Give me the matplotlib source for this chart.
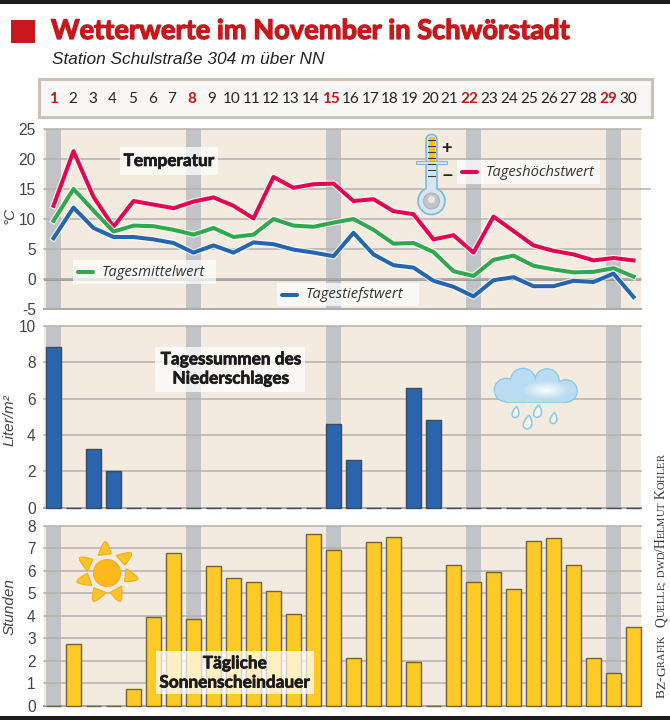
#!/usr/bin/python3
import numpy as np
import matplotlib
matplotlib.use("Agg")
import matplotlib.pyplot as plt
import matplotlib.patheffects as pe
from matplotlib.patches import Circle, Polygon, Rectangle, FancyBboxPatch, Ellipse

plt.rcParams["axes.unicode_minus"] = False
plt.rcParams["font.family"] = ["Liberation Sans", "DejaVu Sans"]

days = list(range(1, 31))
sundays = [1, 8, 15, 22, 29]

temp_high = [12.2, 21.3, 13.7, 8.7, 13.0, 12.4, 11.8, 12.9, 13.6, 12.2, 10.1, 17.0, 15.2, 15.8, 15.9,
             13.0, 13.3, 11.3, 10.8, 6.6, 7.3, 4.4, 10.4, 8.0, 5.6, 4.7, 4.1, 3.1, 3.5, 3.1]
temp_mean = [9.7, 15.0, 11.4, 7.9, 8.9, 8.8, 8.2, 7.4, 8.5, 7.0, 7.4, 10.0, 8.9, 8.7, 9.4,
             10.0, 8.2, 5.9, 6.0, 4.5, 1.3, 0.5, 3.2, 3.9, 2.2, 1.6, 1.1, 1.2, 1.8, 0.4]
temp_low = [6.8, 11.9, 8.5, 7.0, 7.0, 6.6, 6.0, 4.4, 5.6, 4.4, 6.1, 5.8, 4.9, 4.4, 3.8,
            7.7, 4.1, 2.3, 1.9, -0.3, -1.3, -2.9, -0.2, 0.3, -1.2, -1.2, -0.3, -0.5, 0.9, -3.0]
rain = [8.85, 0, 3.2, 2.0, 0, 0, 0, 0, 0, 0, 0, 0, 0, 0, 4.6,
        2.6, 0, 0, 6.6, 4.8, 0, 0, 0, 0, 0, 0, 0, 0, 0, 0]
sun_hours = [0, 2.75, 0, 0, 0.72, 3.93, 6.8, 3.85, 6.2, 5.7, 5.5, 5.1, 4.1, 7.63, 6.95,
             2.1, 7.27, 7.52, 1.93, 0, 6.26, 5.52, 5.93, 5.18, 7.34, 7.45, 6.26, 2.1, 1.44, 3.52]

W, H = 670, 720
RED = "#c8181c"
BEIGE = "#f3ebdf"
BAND = "#c1c3c6"
GRID = "#b4b1ab"
TEXT = "#444444"
HIGH_COLOR = "#e3054f"
MEAN_COLOR = "#2fa84f"
LOW_COLOR = "#2565b0"
DARK = "#1c1c1c"

fig = plt.figure(figsize=(W / 100, H / 100), dpi=100, facecolor="white")


def panel(top, bottom, ymin, ymax, ticks, ylabel, label_y):
    # axes placed by pixel rows of the reference
    ax = fig.add_axes([44 / W, 1 - bottom / H, (641 - 44) / W, (bottom - top) / H])
    ax.set_facecolor(BEIGE)
    ax.set_xlim(0.525, 30.375)
    ax.set_ylim(ymin, ymax)
    for d in sundays:
        ax.axvspan(d - 0.375, d + 0.375, color=BAND, lw=0, zorder=1)
    ax.set_yticks(ticks)
    ax.set_xticks([])
    ax.grid(axis="y", color=GRID, lw=1.1, zorder=2)
    for line in ax.get_ygridlines():
        line.set_clip_on(False)
    ax.set_axisbelow(False)
    ax.tick_params(axis="y", length=0, pad=6, labelsize=11.2, labelcolor=TEXT)
    for name in ["left", "right", "top"]:
        ax.spines[name].set_visible(False)
    ax.spines["bottom"].set_color("#9a9a9a")
    ax.spines["bottom"].set_linewidth(1.4)
    ax.text(-0.0585, (bottom - label_y) / (bottom - top), ylabel, transform=ax.transAxes, rotation=90,
            ha="center", va="center", fontsize=11, style="italic", color=TEXT)
    return ax


ax_temp = panel(129, 309, -5, 25, range(-5, 30, 5), "°C", 215)
ax_rain = panel(326, 507.5, 0, 10, range(0, 12, 2), "Liter/m²", 420)
ax_sun = panel(526, 705.5, 0, 8, range(0, 9), "Stunden", 607)

ax_temp.axhline(0, color="#8c8c8c", lw=1.8, zorder=2)
halo = [pe.Stroke(linewidth=4.6, foreground="white", alpha=0.7), pe.Normal()]
for values, color in [(temp_high, HIGH_COLOR), (temp_mean, MEAN_COLOR), (temp_low, LOW_COLOR)]:
    ax_temp.plot(days, values, color=color, lw=2.9, solid_joinstyle="round", zorder=4, path_effects=halo)

for bar in ax_rain.bar(days, rain, width=0.75, color="#2a65ad", edgecolor="#3c4a5c", lw=1.0, zorder=3):
    bar.set_clip_on(False)
for bar in ax_sun.bar(days, sun_hours, width=0.73, color="#ffc926", edgecolor="#6f6238", lw=1.0, zorder=3):
    bar.set_clip_on(False)

# overlay in pixel coordinates for the title, legends and icons
ov = fig.add_axes([0, 0, 1, 1], zorder=10)
ov.set_xlim(0, W)
ov.set_ylim(H, 0)
ov.axis("off")

ov.add_patch(Rectangle((0, 0), W, 4, color="#1e1c1c", lw=0))
ov.add_patch(Rectangle((0, 716), W, 4, color="#1e1c1c", lw=0))
ov.add_patch(Rectangle((11, 20), 24, 23, color=RED, lw=0))
ov.text(51, 31, "Wetterwerte im November in Schwörstadt", family="Lato", weight="bold",
        fontsize=19.6, color=RED, va="center",
        path_effects=[pe.withStroke(linewidth=0.9, foreground=RED)])
ov.text(52, 59, "Station Schulstraße 304 m über NN", style="italic",
        fontsize=12.4, color="#222222", va="center")
ov.plot([641, 650], [189, 189], color=GRID, lw=1.1)

# calendar strip
ov.add_patch(Rectangle((38.5, 78.5), 613, 38, facecolor="#f8f7f5", edgecolor="#c8c2b7", lw=2.2))
for d in days:
    is_sun = d in sundays
    ov.text(53 + 19.83 * (d - 1), 99, str(d), ha="center", va="center", family="Lato",
            fontsize=11, weight="bold" if is_sun else "normal", color=RED if is_sun else "#222222")


def label_box(x0, y0, x1, y1):
    ov.add_patch(Rectangle((x0, y0), x1 - x0, y1 - y0, facecolor="white", alpha=0.72, lw=0))


def legend_item(x0, y0, x1, y1, color, text):
    label_box(x0, y0, x1, y1)
    ov.plot([x0 + 5, x0 + 20], [(y0 + y1) / 2] * 2, color=color, lw=2.9, solid_capstyle="round")
    ov.text(x0 + 29, (y0 + y1) / 2, text, family="Open Sans", style="italic", fontsize=10.6, color="#333333",
            va="center")


legend_item(457, 160, 600, 184, HIGH_COLOR, "Tageshöchstwert")
legend_item(73, 260, 216, 284, MEAN_COLOR, "Tagesmittelwert")
legend_item(277, 283, 419, 306, LOW_COLOR, "Tagestiefstwert")

bold_stroke = [pe.withStroke(linewidth=0.5, foreground=DARK)]
label_box(120, 147, 218, 175)
ov.text(169, 161, "Temperatur", family="Lato", weight="bold", fontsize=12.4, color=DARK,
        ha="center", va="center", path_effects=bold_stroke)
label_box(155, 347, 305, 392)
ov.text(231, 369, "Tagessummen des\nNiederschlages", family="Lato", weight="bold", fontsize=12.4,
        color=DARK, ha="center", va="center", linespacing=1.25, path_effects=bold_stroke)
label_box(156, 651, 314, 694)
ov.text(235, 673, "Tägliche\nSonnenscheindauer", family="Lato", weight="bold", fontsize=12.4,
        color=DARK, ha="center", va="center", linespacing=1.25, path_effects=bold_stroke)

# thermometer
BLUE_EDGE = "#7fb8de"
ov.add_patch(FancyBboxPatch((426, 134.5), 11, 60, boxstyle="round,pad=0,rounding_size=5.5",
                            facecolor="#d5e6f3", edgecolor=BLUE_EDGE, lw=1.2))
ov.add_patch(Rectangle((416, 161), 31, 2.5, facecolor="#d5e6f3", edgecolor=BLUE_EDGE, lw=0.8))
ov.add_patch(Circle((431.5, 201), 13.5, facecolor="#d5e6f3", edgecolor=BLUE_EDGE, lw=1.2))
ov.add_patch(Rectangle((427, 185), 9, 10, facecolor="#d5e6f3", lw=0))
ov.add_patch(Circle((431.5, 201), 8, facecolor="#c3c4c6", edgecolor="#a8a9ab", lw=0.6))
ov.add_patch(Circle((431.5, 199.5), 3.5, facecolor="#e8e8e8", lw=0))
ov.add_patch(Rectangle((428.5, 137), 6, 24, facecolor="#f7c600", lw=0))
for y in range(140, 180, 6):
    ov.plot([428, 435], [y, y], color="#3c3c3c", lw=0.8)
ov.text(447, 148, "+", fontsize=13, weight="bold", color="#222222", ha="center", va="center")
ov.text(447, 175, "–", fontsize=13, weight="bold", color="#222222", ha="center", va="center")

# cloud and drops
EDGE = "#8ec6e6"
bumps = [(506, 390, 11.5), (523, 381, 12.5), (547, 381, 12), (566, 391, 11)]
for cx, cy, r in bumps:
    ov.add_patch(Circle((cx, cy), r, facecolor="#b9dcf0", edgecolor=EDGE, lw=1.2, zorder=3))
ov.plot([506, 566], [402, 402], color=EDGE, lw=1.2, zorder=3)
ov.add_patch(Rectangle((506, 384), 60, 17.5, facecolor="#b9dcf0", lw=0, zorder=4))
for cx, cy, r in bumps:
    ov.add_patch(Circle((cx, cy), r - 0.5, facecolor="#b9dcf0", lw=0, zorder=4))
for k in range(14):
    f = 1 - k / 14
    mix = np.array([0.725, 0.862, 0.941]) * f + np.array([1.0, 1.0, 1.0]) * (1 - f)
    ov.add_patch(Ellipse((546, 390), 50 * f, 20 * f, facecolor=mix, lw=0, zorder=5))
for cx, cy, s in [(515, 412, 1.0), (527, 422, 1.25), (537, 411, 1.15), (553, 418, 1.0)]:
    t = np.linspace(0, 2 * np.pi, 40)
    xs = cx + s * 4.4 * np.sin(t) * np.sin(t / 2) + s * 1.5 * (np.cos(t) + 1) / 2
    ys = cy + s * 5.5 * np.cos(t + np.pi)
    ov.add_patch(Polygon(np.c_[xs, ys], closed=True, facecolor="#eef6fb", edgecolor=EDGE, lw=1.1))

# sun
center = np.array([107, 573])
ov.add_patch(Circle(center, 13.5, facecolor="#fdb91c", edgecolor="#f9ac1b", lw=0.8))
for ang in [-97, -43, 7, 61, 112, 160, 205]:
    a = np.deg2rad(ang)
    u = np.array([np.cos(a), np.sin(a)])
    n = np.array([-u[1], u[0]])
    s = np.linspace(0, 1, 12)
    side_a = [center + u * (18.5 + 13 * v) + n * (6.5 * (1 - v) ** 0.6 + 2 * v) for v in s]
    side_b = [center + u * (18.5 + 13 * v) + n * (-6.5 * (1 - v) ** 0.6 + 2 * v) for v in s[::-1]]
    ov.add_patch(Polygon(side_a + side_b, closed=True, facecolor="#fdc42a", edgecolor="#f9ac1b", lw=0.8))


def small_caps(y_start, x, text, big, small):
    # rotated small caps drawn piece by piece, upwards from y_start
    renderer = fig.canvas.get_renderer()
    y = y_start
    for ch in text:
        low = ch.islower()
        t = ov.text(x, y, ch.upper(), rotation=90, rotation_mode="anchor", family="Liberation Serif",
                    fontsize=small if low else big, color="#333333", ha="left", va="baseline")
        y -= t.get_window_extent(renderer).height if ch != " " else 3.5


small_caps(698, 665, "BZ-Grafik", 9.6, 7.5)
small_caps(627, 665, "Quelle: dwd/Helmut Kohler", 9.8, 7.6)

fig.savefig("out.png", dpi=100)
